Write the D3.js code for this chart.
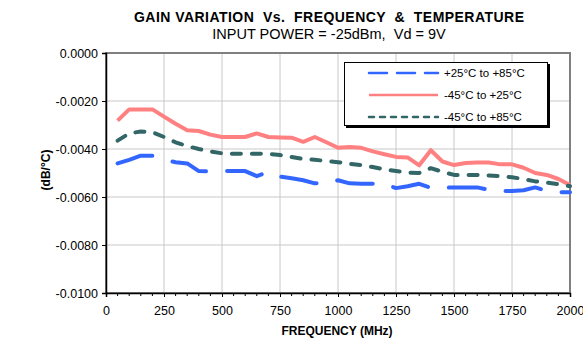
<!DOCTYPE html>
<html>
<head>
<meta charset="utf-8">
<script src="https://cdn.jsdelivr.net/npm/d3@7"></script>
<style>
  body { margin: 0; background: #fff; }
  svg { display: block; font-family: "Liberation Sans", Arial, sans-serif; }
</style>
</head>
<body>
<div id="chart"></div>
<script>
// frequency points (MHz)
const freqs = [50, 100, 150, 200, 250, 300, 350, 400, 450, 500, 550, 600, 650, 700, 750, 800,
  850, 900, 950, 1000, 1050, 1100, 1150, 1200, 1250, 1300, 1350, 1400, 1450, 1500, 1550, 1600,
  1650, 1700, 1750, 1800, 1850, 1900, 1950, 2000];

// +25°C to +85°C
const hotGain = [-0.00460, -0.00445, -0.00428, -0.00428, -0.00445, -0.00455, -0.00460, -0.00492,
  -0.00493, -0.00492, -0.00492, -0.00492, -0.00513, -0.00495, -0.00515, -0.00522, -0.00530,
  -0.00543, -0.00543, -0.00530, -0.00543, -0.00545, -0.00545, -0.00545, -0.00563, -0.00555,
  -0.00545, -0.00562, -0.00562, -0.00560, -0.00560, -0.00560, -0.00570, -0.00575, -0.00575,
  -0.00572, -0.00560, -0.00575, -0.00580, -0.00580];

// -45°C to +25°C
const coldGain = [-0.00282, -0.00235, -0.00235, -0.00235, -0.00265, -0.00295, -0.00322, -0.00325,
  -0.00340, -0.00350, -0.00350, -0.00350, -0.00335, -0.00350, -0.00352, -0.00353, -0.00370,
  -0.00350, -0.00372, -0.00395, -0.00392, -0.00395, -0.00410, -0.00422, -0.00433, -0.00435,
  -0.00468, -0.00405, -0.00452, -0.00467, -0.00458, -0.00456, -0.00456, -0.00464, -0.00464,
  -0.00478, -0.00500, -0.00508, -0.00525, -0.00550];

// -45°C to +85°C
const fullGain = [-0.00365, -0.00335, -0.00327, -0.00330, -0.00350, -0.00372, -0.00388, -0.00400,
  -0.00410, -0.00418, -0.00420, -0.00420, -0.00420, -0.00420, -0.00425, -0.00433, -0.00442,
  -0.00445, -0.00450, -0.00455, -0.00462, -0.00467, -0.00475, -0.00485, -0.00492, -0.00498,
  -0.00500, -0.00480, -0.00495, -0.00508, -0.00508, -0.00508, -0.00510, -0.00513, -0.00518,
  -0.00525, -0.00535, -0.00540, -0.00547, -0.00555];

const xTicks = [0, 250, 500, 750, 1000, 1250, 1500, 1750, 2000];
const xMinorTicks = [50, 100, 150, 200, 300, 350, 400, 450, 550, 600, 650, 700, 800, 850, 900, 950,
  1050, 1100, 1150, 1200, 1300, 1350, 1400, 1450, 1550, 1600, 1650, 1700, 1800, 1850, 1900, 1950];
const yTicks = [0, -0.002, -0.004, -0.006, -0.008, -0.010];

const seriesNames = ['+25°C to +85°C', '-45°C to +25°C', '-45°C to +85°C'];

const width = 583, height = 339;
const plot = { left: 106, right: 570, top: 53, bottom: 293 };
const font = '"Liberation Sans", Arial, sans-serif';

const svg = d3.select('#chart').append('svg')
  .attr('width', width)
  .attr('height', height);

const x = d3.scaleLinear().domain([0, 2000]).range([plot.left, plot.right]);
const y = d3.scaleLinear().domain([-0.01, 0]).range([plot.bottom, plot.top]);

const fmtY = v => d3.format('.4f')(v).replace('\u2212', '-');

// titles
svg.append('text')
  .attr('x', 329).attr('y', 22)
  .attr('text-anchor', 'middle')
  .attr('font-size', '14px')
  .attr('font-weight', 'bold')
  .attr('textLength', 390)
  .attr('lengthAdjust', 'spacing')
  .style('white-space', 'pre')
  .text('GAIN VARIATION  Vs.  FREQUENCY  &  TEMPERATURE');
svg.append('text')
  .attr('x', 329).attr('y', 39)
  .attr('text-anchor', 'middle')
  .attr('font-size', '14.5px')
  .style('white-space', 'pre')
  .text('INPUT POWER = -25dBm,  Vd = 9V');

// gridlines
svg.append('g')
  .selectAll('line')
  .data(xTicks.slice(1, -1))
  .join('line')
    .attr('x1', d => x(d)).attr('x2', d => x(d))
    .attr('y1', plot.top).attr('y2', plot.bottom)
    .attr('stroke', '#c8c8c8').attr('stroke-width', 1);
svg.append('g')
  .selectAll('line')
  .data(yTicks.slice(1, -1))
  .join('line')
    .attr('x1', plot.left).attr('x2', plot.right)
    .attr('y1', d => y(d)).attr('y2', d => y(d))
    .attr('stroke', '#c8c8c8').attr('stroke-width', 1);

// plot border (top/right)
svg.append('rect')
  .attr('x', plot.left).attr('y', plot.top)
  .attr('width', plot.right - plot.left)
  .attr('height', plot.bottom - plot.top)
  .attr('fill', 'none')
  .attr('stroke', '#808080')
  .attr('stroke-width', 2);

// axes
const xAxis = svg.append('g')
  .attr('transform', `translate(0, ${plot.bottom})`)
  .call(d3.axisBottom(x).tickValues(xTicks).tickSize(4).tickPadding(9).tickFormat(d => d));
xAxis.select('.domain').attr('stroke', '#000').attr('stroke-width', 1.5);
xAxis.selectAll('text').attr('font-size', '12.5px').attr('font-family', font).attr('fill', '#000');
xAxis.selectAll('.tick line').attr('stroke', '#000');
svg.append('g')
  .selectAll('line')
  .data(xMinorTicks)
  .join('line')
    .attr('x1', d => x(d)).attr('x2', d => x(d))
    .attr('y1', plot.bottom).attr('y2', plot.bottom + 3)
    .attr('stroke', '#000');

const yAxis = svg.append('g')
  .attr('transform', `translate(${plot.left}, 0)`)
  .call(d3.axisLeft(y).tickValues(yTicks).tickSize(4).tickPadding(4).tickFormat(fmtY));
yAxis.select('.domain').attr('stroke', '#000').attr('stroke-width', 1.5);
yAxis.selectAll('text').attr('font-size', '12.5px').attr('font-family', font).attr('fill', '#000');
yAxis.selectAll('.tick line').attr('stroke', '#000');

// axis titles
svg.append('text')
  .attr('x', 337).attr('y', 335)
  .attr('text-anchor', 'middle')
  .attr('font-size', '12px')
  .attr('font-weight', 'bold')
  .text('FREQUENCY (MHz)');
svg.append('text')
  .attr('transform', 'translate(50, 170) rotate(-90)')
  .attr('text-anchor', 'middle')
  .attr('font-size', '12px')
  .attr('font-weight', 'bold')
  .text('(dB/°C)');

// series
const series = [
  { name: seriesNames[0], values: hotGain, color: '#3366ff', dash: '36,21', legendDash: '18,10' },
  { name: seriesNames[1], values: coldGain, color: '#ff8080', dash: null, legendDash: null },
  { name: seriesNames[2], values: fullGain, color: '#336666', dash: '9,11', legendDash: '5,6' }
];

const line = d3.line()
  .x((d, i) => x(freqs[i]))
  .y(d => y(d));

svg.append('g')
  .selectAll('path')
  .data(series)
  .join('path')
    .attr('d', d => line(d.values))
    .attr('fill', 'none')
    .attr('stroke', d => d.color)
    .attr('stroke-width', 4)
    .attr('stroke-linejoin', 'round')
    .attr('stroke-linecap', d => d.dash ? 'round' : 'butt')
    .attr('stroke-dasharray', d => d.dash);

// legend
const legend = svg.append('g').attr('transform', 'translate(344, 62)');
legend.append('rect')
  .attr('x', 2).attr('y', 2)
  .attr('width', 204).attr('height', 64)
  .attr('fill', '#000');
legend.append('rect')
  .attr('x', 0.5).attr('y', 0.5)
  .attr('width', 203).attr('height', 63)
  .attr('fill', '#fff')
  .attr('stroke', '#000')
  .attr('stroke-width', 1);
const rows = legend.selectAll('g.row')
  .data(series)
  .join('g')
    .attr('class', 'row')
    .attr('transform', (d, i) => `translate(0, ${11 + i * 22})`);
rows.append('line')
  .attr('x1', 25).attr('x2', 94)
  .attr('y1', 0).attr('y2', 0)
  .attr('stroke', d => d.color)
  .attr('stroke-width', 2.5)
  .attr('stroke-linecap', d => d.dash ? 'round' : 'butt')
  .attr('stroke-dasharray', d => d.legendDash);
rows.append('text')
  .attr('x', 100).attr('y', 4)
  .attr('font-size', '11.5px')
  .text(d => d.name);
</script>
</body>
</html>
